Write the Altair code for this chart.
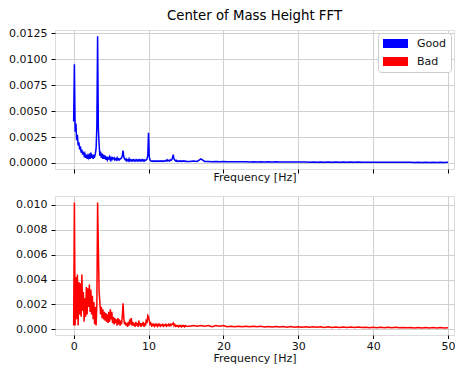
import altair as alt
import numpy as np
import pandas as pd

# Frequency grid (Hz): fine below 15 Hz, coarser above
freq_low = [round(0.1 * i, 1) for i in range(151)]
freq_high = [round(15.5 + 0.5 * i, 1) for i in range(70)]

# Good series amplitude (units of 1e-4)
good_low = [
    40, 95, 30, 38, 22, 27, 17, 20, 13, 16,
    10, 13, 8, 11, 7, 9, 5, 8, 4, 7,
    5, 9, 4, 10, 5, 8, 4, 7, 6, 9,
    14, 35, 122, 33, 18, 7, 11, 5, 9, 4,
    8, 4, 7, 3, 6, 3, 5, 4, 6, 3,
    5, 3, 5, 4, 5, 3, 4, 3, 5, 3,
    4, 3, 4, 4, 5, 7, 12, 6, 4, 3,
    4, 2, 3, 2, 4, 2, 3, 2, 3, 2,
    3, 2, 3, 2, 3, 2, 3, 2, 3, 2,
    3, 2, 3, 2, 3, 2, 3, 3, 4, 7,
    29, 6, 3, 2, 2, 1.5, 2, 1.5, 2, 1.5,
    2, 1.5, 2, 1.5, 2, 1.5, 2, 1.5, 2, 1.5,
    2, 1.5, 2, 2.5, 2, 3, 2, 2.5, 2, 3,
    2.5, 3, 5, 8, 4, 3, 2, 2.5, 1.5, 2,
    1.5, 2, 1.5, 2, 1.5, 2, 1.5, 2, 1.5, 2,
    1.5,
]
good_high = [
    1.5, 2, 1.5, 4, 1.5, 1.5, 1.2, 1.5, 1.2, 1.4,
    1.2, 1.3, 1.1, 1.3, 1.1, 1.2, 1.0, 1.2, 1.0, 1.1,
    1.0, 1.1, 1.0, 1.1, 0.9, 1.0, 0.9, 1.0, 0.9, 1.0,
    0.9, 1.0, 0.8, 1.0, 0.8, 0.9, 0.8, 0.9, 0.8, 0.9,
    0.8, 0.9, 0.8, 0.9, 0.7, 0.9, 0.7, 0.8, 0.7, 0.8,
    0.7, 0.8, 0.7, 0.8, 0.7, 0.8, 0.7, 0.8, 0.7, 0.8,
    0.6, 0.8, 0.6, 0.7, 0.6, 0.7, 0.6, 0.7, 0.6, 0.7,
]

# Bad series amplitude (units of 1e-4)
bad_low = [
    3, 102, 3, 42, 8, 44, 3, 38, 12, 37,
    10, 44, 15, 30, 6, 25, 10, 34, 12, 33,
    18, 36, 14, 32, 12, 27, 8, 22, 4, 18,
    3, 20, 102, 66, 30, 22, 12, 18, 9, 16,
    8, 14, 7, 13, 6, 12, 5, 14, 6, 16,
    8, 14, 5, 10, 4, 9, 5, 8, 3, 9,
    4, 8, 3, 7, 4, 11, 21, 9, 4, 6,
    3, 5, 2, 6, 3, 8, 4, 9, 3, 6,
    3, 5, 2, 6, 3, 5, 2, 7, 3, 5,
    2, 5, 3, 6, 2, 5, 3, 8, 5, 11,
    10, 7, 4, 5, 3, 4, 3, 4, 2.5, 4,
    3, 4, 2.5, 4, 3, 4, 2.5, 3.5, 3, 4,
    2.5, 3.5, 3, 4, 2.5, 3.5, 3, 4, 3, 4,
    3, 4, 4, 5, 3, 4, 2.5, 3, 2.5, 3,
    2, 3, 2.5, 3, 2, 3, 2.5, 3, 2, 3,
    2.5,
]
bad_high = [
    2.5, 3, 2.5, 3, 2.5, 3, 2, 3, 2.5, 3,
    2, 2.5, 2, 2.5, 2, 2.5, 2, 2.5, 2, 2.5,
    1.8, 2.3, 1.8, 2.3, 1.8, 2.2, 1.7, 2.2, 1.7, 2.1,
    1.6, 2.1, 1.6, 2.0, 1.6, 2.0, 1.5, 2.0, 1.5, 1.9,
    1.5, 1.9, 1.4, 1.8, 1.4, 1.8, 1.4, 1.7, 1.3, 1.7,
    1.3, 1.6, 1.3, 1.6, 1.2, 1.6, 1.2, 1.5, 1.2, 1.5,
    1.1, 1.5, 1.1, 1.4, 1.1, 1.4, 1.0, 1.4, 1.0, 1.3,
]

# Legend entries
series_names = ["Good", "Bad"]
series_colors = ["#0000ff", "#ff0000"]

freq = freq_low + freq_high
good = pd.DataFrame({
    "f": freq,
    "a": [v * 1e-4 for v in good_low + good_high],
    "s": "Good",
})
bad = pd.DataFrame({
    "f": freq,
    "a": [v * 1e-4 for v in bad_low + bad_high],
    "s": "Bad",
})

FONT = "DejaVu Sans"
W, H = 399, 139
xdom = [-2.49, 50.8]
RECT = "M-2.27,-0.82H2.27V0.82H-2.27Z"

def xaxis(labels):
    return alt.Axis(
        values=[0, 10, 20, 30, 40, 50],
        labels=labels,
        title="Frequency [Hz]",
        grid=True,
        gridColor="#d0d0d0",
        domain=False,
        tickColor="#000",
        tickSize=4 if not labels else 3.5,
        labelPadding=2,
        titlePadding=-2 if not labels else 1,
        labelFontSize=11,
        titleFontSize=11,
        labelFont=FONT,
        titleFont=FONT,
        labelColor="#111",
        titleColor="#111",
        titleFontWeight="normal",
    )

def yaxis(vals, fmt):
    return alt.Axis(
        values=vals,
        format=fmt,
        title=None,
        grid=True,
        gridColor="#d0d0d0",
        domain=False,
        tickColor="#000",
        tickSize=4,
        labelPadding=4,
        labelFontSize=11,
        labelFont=FONT,
        labelColor="#111",
    )

xs = alt.X("f:Q", scale=alt.Scale(domain=xdom, nice=False, zero=False), axis=xaxis(False))
ys = alt.Y("a:Q", scale=alt.Scale(domain=[-0.000577, 0.01279], nice=False, zero=False),
           axis=yaxis([0, 0.0025, 0.005, 0.0075, 0.01, 0.0125], ".4f"))

top_line = alt.Chart(good).mark_line(strokeWidth=1.5, clip=True).encode(
    x=xs, y=ys,
    color=alt.Color("s:N", scale=alt.Scale(domain=series_names, range=series_colors), legend=None),
)

top_key = alt.Chart(good).mark_point(filled=True, size=0, shape=RECT, clip=True).encode(
    x=xs, y=ys,
    color=alt.Color(
        "s:N",
        scale=alt.Scale(domain=series_names, range=series_colors),
        legend=alt.Legend(
            title=None,
            orient="top-right",
            offset=3,
            fillColor="white",
            strokeColor="#cccccc",
            cornerRadius=3,
            padding=5,
            symbolType=RECT,
            symbolSize=121,
            symbolStrokeWidth=0,
            symbolOpacity=1,
            symbolOffset=7,
            labelFontSize=11,
            labelFont=FONT,
            labelColor="#111",
            labelOffset=16,
            rowPadding=6,
        ),
    ),
)

top = alt.layer(top_line, top_key).resolve_scale(color="independent").properties(
    width=W,
    height=H,
    title=alt.TitleParams(
        "Center of Mass Height FFT",
        fontSize=13.3,
        font=FONT,
        fontWeight="normal",
        color="#000",
        anchor="middle",
        offset=5,
    ),
)

bottom = alt.Chart(bad).mark_line(strokeWidth=1.5, color="#ff0000", clip=True).encode(
    x=alt.X("f:Q", scale=alt.Scale(domain=xdom, nice=False, zero=False), axis=xaxis(True)),
    y=alt.Y("a:Q", scale=alt.Scale(domain=[-0.00046, 0.01072], nice=False, zero=False),
            axis=yaxis([0, 0.002, 0.004, 0.006, 0.008, 0.010], ".3f")),
).properties(width=W, height=H)

chart = alt.vconcat(top, bottom, spacing=12).resolve_scale(color="independent").configure_view(
    stroke="#000", strokeWidth=1
).configure(padding=0)

chart.save("out.html", embed_options={"renderer": "svg", "actions": False})
